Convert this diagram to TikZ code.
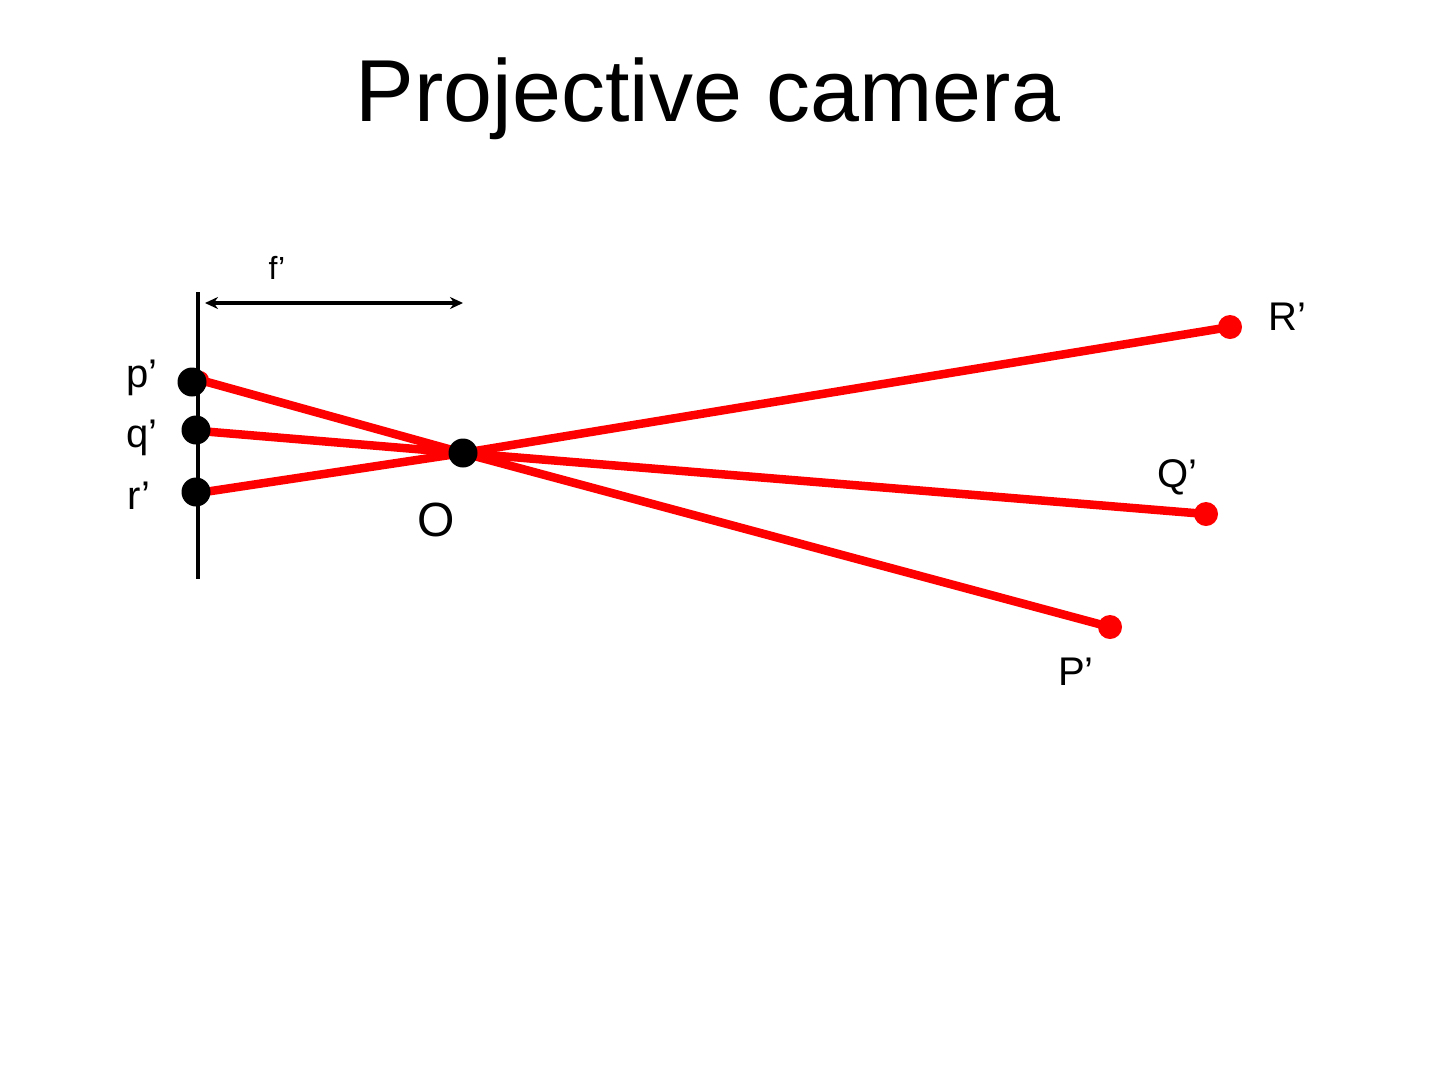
\documentclass[tikz,border=0pt]{standalone}
\usepackage{fontspec}
\setmainfont{Liberation Sans}
\usetikzlibrary{arrows.meta}
\begin{document}
\begin{tikzpicture}[x=1pt,y=-1pt,
  ray/.style={draw=red, line width=8.5pt, line cap=round},
  bdot/.style={circle, fill=black, inner sep=0pt, minimum size=29pt},
  rdot/.style={circle, fill=red, inner sep=0pt, minimum size=24pt},
  lbl/.style={font=\fontsize{40}{44}\selectfont, inner sep=0pt},
  plane/.style={draw=black, line width=4pt}]
\useasboundingbox (0,0) rectangle (1440,1080);
\node[font=\fontsize{88}{92}\selectfont, inner sep=0pt] (title) at (708,99) {Projective camera};
% image plane
\coordinate (ptop) at (198,292);
\coordinate (pbot) at (198,579);
\draw[plane] (ptop) -- (pbot);
% focal length arrow
\coordinate (fa) at (205,303);
\coordinate (fb) at (463,303);
\draw[line width=3.5pt, {Stealth[length=13pt,width=12pt]}-{Stealth[length=13pt,width=12pt]}] (fa) -- (fb);
\node[font=\fontsize{32}{36}\selectfont, inner sep=0pt] (flbl) at (277,268) {f’};
% ray endpoints
\coordinate (pr) at (200,380);
\coordinate (qr) at (200,431);
\coordinate (rr) at (198,493);
\coordinate (Oc) at (463,453);
\node[rdot] (R) at (1230,327) {};
\node[rdot] (Q) at (1206,514) {};
\node[rdot] (P) at (1110,627) {};
\draw[ray] (pr) -- (Oc) -- (P.center);
\draw[ray] (qr) -- (Oc) -- (Q.center);
\draw[ray] (rr) -- (Oc) -- (R.center);
\fill[red] (pr) circle (9pt);
\fill[red] (rr) circle (9pt);
% black dots
\node[bdot] (p) at (192,382) {};
\node[bdot] (q) at (196,430) {};
\node[bdot] (r) at (196,492) {};
\node[bdot] (O) at (463,453) {};
% labels
\node[lbl] (plbl) at (142,378) {p’};
\node[lbl] (qlbl) at (142,438) {q’};
\node[lbl] (rlbl) at (139,496) {r’};
\node[font=\fontsize{48}{52}\selectfont, inner sep=0pt] (Olbl) at (436,520) {O};
\node[lbl] (Rlbl) at (1287,317) {R’};
\node[lbl] (Qlbl) at (1177,477) {Q’};
\node[lbl] (Plbl) at (1076,672) {P’};
\end{tikzpicture}
\end{document}
